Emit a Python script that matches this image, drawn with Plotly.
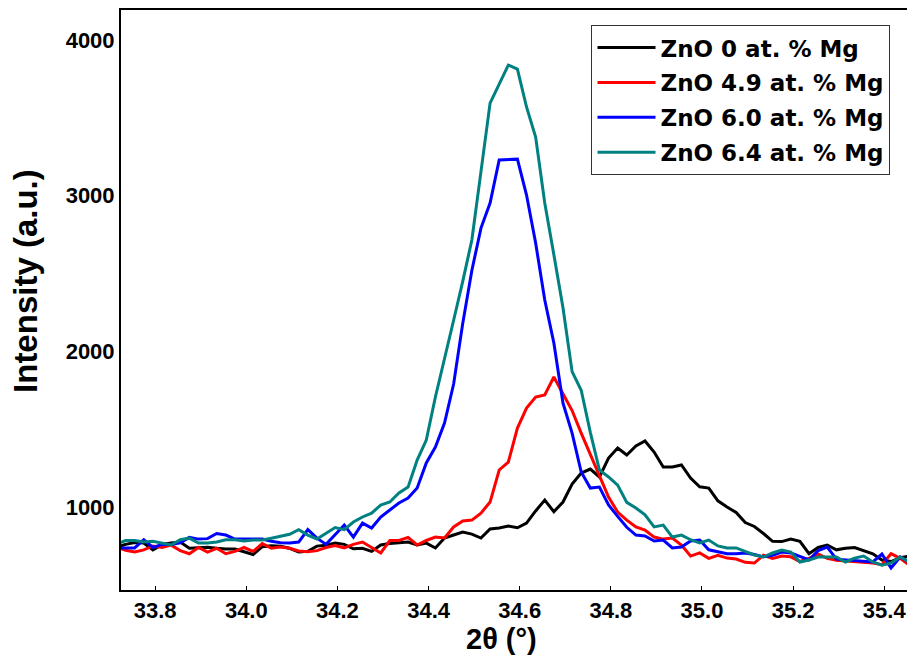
import plotly.graph_objects as go

# 2-theta grid (degrees), step 0.02
two_theta = [round(33.715 + 0.02 * i, 3) for i in range(88)]

zno_0 = [740, 760, 772, 769, 725, 760, 769, 775, 735, 737,
         742, 735, 730, 730, 715, 695, 745, 752, 748, 735,
         711, 715, 749, 755, 769, 760, 732, 735, 715, 756,
         765, 770, 775, 756, 768, 737, 801, 820, 839, 826,
         801, 859, 865, 878, 867, 897, 975, 1045, 970, 1032,
         1148, 1218, 1244, 1193, 1315, 1379, 1334, 1392, 1424, 1353,
         1257, 1257, 1270, 1186, 1130, 1122, 1040, 1000, 965, 900,
         875, 830, 780, 778, 795, 780, 700, 740, 756, 725,
         735, 740, 720, 700, 660, 650, 675, 685]

zno_49 = [745, 722, 711, 725, 750, 740, 755, 720, 700, 740,
          710, 735, 700, 715, 740, 715, 765, 735, 743, 735,
          718, 712, 720, 740, 752, 738, 760, 775, 740, 705,
          785, 785, 805, 756, 785, 807, 801, 872, 910, 916,
          961, 1032, 1238, 1289, 1507, 1636, 1707, 1720, 1835, 1732,
          1620, 1475, 1334, 1193, 1064, 968, 916, 872, 852, 807,
          794, 801, 756, 685, 705, 670, 690, 672, 666, 645,
          640, 690, 670, 685, 680, 650, 670, 698, 670, 658,
          653, 650, 647, 640, 630, 700, 670, 627]

zno_60 = [737, 737, 737, 790, 740, 760, 760, 770, 805, 794,
          797, 830, 820, 794, 794, 794, 794, 780, 770, 769,
          775, 855, 800, 760, 820, 884, 807, 897, 865, 936,
          981, 1026, 1058, 1122, 1283, 1385, 1540, 1790, 2180, 2520,
          2792, 2953, 3229, 3232, 3235, 3004, 2696, 2330, 2054, 1668,
          1475, 1225, 1122, 1128, 1013, 940, 870, 820, 814, 782,
          788, 737, 743, 782, 788, 725, 710, 700, 700, 705,
          695, 680, 690, 711, 705, 680, 660, 720, 743, 665,
          660, 653, 650, 647, 698, 608, 679, 647]

zno_64 = [760, 785, 785, 775, 780, 770, 756, 790, 800, 769,
          769, 775, 790, 790, 782, 788, 788, 800, 815, 825,
          855, 820, 795, 830, 868, 855, 904, 936, 961, 1013,
          1032, 1090, 1128, 1302, 1430, 1707, 1944, 2200, 2450, 2715,
          3155, 3595, 3717, 3839, 3813, 3570, 3377, 2953, 2620, 2280,
          1870, 1750, 1480, 1238, 1193, 1141, 1030, 994, 950, 872,
          884, 807, 820, 790, 769, 788, 750, 737, 737, 717,
          692, 679, 705, 724, 711, 647, 660, 679, 679, 679,
          647, 672, 685, 647, 627, 640, 679, 647]

series_names = ["ZnO 0 at. % Mg", "ZnO 4.9 at. % Mg",
                "ZnO 6.0 at. % Mg", "ZnO 6.4 at. % Mg"]
series_values = [zno_0, zno_49, zno_60, zno_64]
series_colors = ["#000000", "#ff0000", "#0000ff", "#008080"]

x_ticks = [33.8, 34.0, 34.2, 34.4, 34.6, 34.8, 35.0, 35.2, 35.4]
x_tick_text = ["33.8", "34.0", "34.2", "34.4", "34.6", "34.8", "35.0", "35.2", "35.4"]
y_ticks = [1000, 2000, 3000, 4000]
y_tick_text = ["1000", "2000", "3000", "4000"]

x_title = "2θ (°)"
y_title = "Intensity (a.u.)"

FONT = "Liberation Sans, Arial, sans-serif"
LEGEND_FONT = "DejaVu Sans, Liberation Sans, sans-serif"

fig = go.Figure()
for k, (name, vals, col) in enumerate(zip(series_names, series_values, series_colors)):
    fig.add_trace(go.Scatter(x=two_theta, y=vals, mode="lines", name=name,
                             legendgroup=f"g{k}",
                             line=dict(color=col, width=3)))

fig.update_layout(
    width=907, height=661,
    margin=dict(l=121, r=0, t=10, b=71),
    paper_bgcolor="white", plot_bgcolor="white",
    font=dict(family=FONT, color="black", size=22, weight="bold"),
    showlegend=True,
    legend=dict(x=0.979, y=0.974, xanchor="right", yanchor="top",
                bgcolor="white", bordercolor="#333333", borderwidth=1,
                font=dict(family=LEGEND_FONT, size=23, color="black", weight="bold"),
                itemwidth=58, tracegroupgap=2),
    annotations=[
        dict(text=y_title, textangle=-90, xref="paper", yref="paper",
             x=-0.1209, y=0.5328, xanchor="center", yanchor="middle",
             showarrow=False, font=dict(family=FONT, size=33, weight="bold", color="black")),
        dict(text=x_title, xref="paper", yref="paper",
             x=0.4835, y=-0.085, xanchor="center", yanchor="middle",
             showarrow=False, font=dict(family=FONT, size=29, weight="bold", color="black")),
    ],
)
fig.update_xaxes(
    range=[33.725, 35.45], tickvals=x_ticks, ticktext=x_tick_text,
    automargin=False,
    showgrid=False, zeroline=False, showline=True, linecolor="black",
    linewidth=2, mirror=True, ticks="inside", ticklen=4, tickcolor="black",
    tickfont=dict(family=FONT, size=22, weight="bold"),
)
fig.update_yaxes(
    range=[467, 4193], tickvals=y_ticks, ticktext=y_tick_text,
    automargin=False,
    showgrid=False, zeroline=False, showline=True, linecolor="black",
    linewidth=2, mirror=False, ticks="",
    tickfont=dict(family=FONT, size=22, weight="bold"),
)

fig.write_html("out.html", config={"displayModeBar": False},
               post_script="document.body.style.margin='0px';")
